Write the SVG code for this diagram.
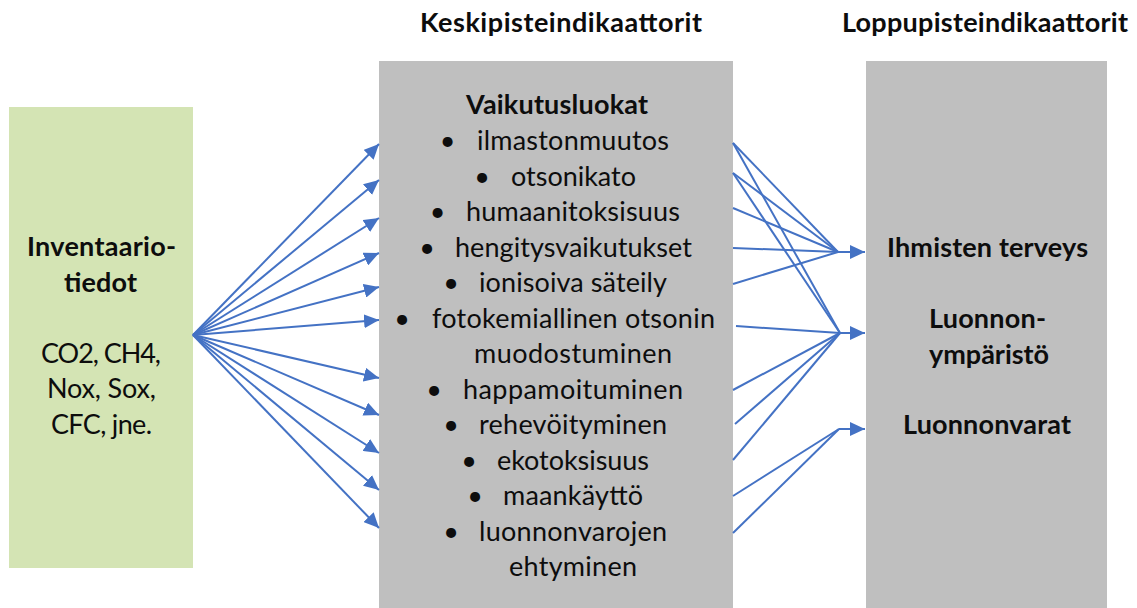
<svg xmlns="http://www.w3.org/2000/svg" width="1137" height="608" viewBox="0 0 1137 608">
<style>
  .t { font-family: Lato, "Liberation Sans", sans-serif; font-size: 27px; fill: #0d0d0d; }
  .b { font-weight: bold; }
  .c { text-anchor: middle; }
  .ln { stroke: #4472c4; stroke-width: 2; fill: none; }
</style>
<defs>
  <marker id="ah" markerUnits="userSpaceOnUse" markerWidth="16" markerHeight="14" refX="15" refY="7" orient="auto">
    <path d="M0,0 L15,7 L0,14 z" fill="#4472c4"/>
  </marker>
</defs>
<rect width="1137" height="608" fill="#ffffff"/>

<g id="header-keski">
  <text class="t b" x="420" y="32" textLength="282">Keskipisteindikaattorit</text>
</g>
<g id="header-loppu">
  <text class="t b" x="842" y="32" textLength="286">Loppupisteindikaattorit</text>
</g>

<g id="inventaario">
  <rect x="9" y="107" width="184" height="461" fill="#d4e4b4"/>
  <text class="t b c" x="101.5" y="256" textLength="149">Inventaario-</text>
  <text class="t b c" x="100.5" y="291.5" textLength="73">tiedot</text>
  <text class="t c" x="101" y="363" textLength="120">CO2, CH4,</text>
  <text class="t c" x="101.5" y="398" textLength="109">Nox, Sox,</text>
  <text class="t c" x="101.5" y="433.5" textLength="101">CFC, jne.</text>
</g>

<g id="keskipiste">
  <rect x="379" y="61" width="354" height="547" fill="#bfbfbf"/>
  <text class="t b" x="466" y="114" textLength="182">Vaikutusluokat</text>
  <g class="t c">
    <text x="447.5" y="150">•</text>
    <text x="482" y="185.5">•</text>
    <text x="437.5" y="221">•</text>
    <text x="427" y="256.5">•</text>
    <text x="451" y="292">•</text>
    <text x="402" y="327.5">•</text>
    <text x="434" y="398.5">•</text>
    <text x="451" y="434">•</text>
    <text x="469" y="469.5">•</text>
    <text x="475" y="505">•</text>
    <text x="451" y="540.5">•</text>
  </g>
  <text class="t" x="477" y="150" textLength="192">ilmastonmuutos</text>
  <text class="t" x="511" y="185.5" textLength="125">otsonikato</text>
  <text class="t" x="466" y="221" textLength="214">humaanitoksisuus</text>
  <text class="t" x="455" y="256.5" textLength="237">hengitysvaikutukset</text>
  <text class="t" x="479" y="292" textLength="188">ionisoiva säteily</text>
  <text class="t" x="432" y="327.5" textLength="283">fotokemiallinen otsonin</text>
  <text class="t" x="474" y="363" textLength="198">muodostuminen</text>
  <text class="t" x="463" y="398.5" textLength="220">happamoituminen</text>
  <text class="t" x="479" y="434" textLength="188">rehevöityminen</text>
  <text class="t" x="497" y="469.5" textLength="152">ekotoksisuus</text>
  <text class="t" x="503" y="505" textLength="140">maankäyttö</text>
  <text class="t" x="479" y="540.5" textLength="188">luonnonvarojen</text>
  <text class="t" x="509" y="576" textLength="128">ehtyminen</text>
</g>

<g id="loppupiste">
  <rect x="866" y="61" width="241" height="547" fill="#bfbfbf"/>
  <text class="t b" x="887" y="257" textLength="201">Ihmisten terveys</text>
  <text class="t b" x="929" y="328" textLength="117">Luonnon-</text>
  <text class="t b" x="929" y="363.5" textLength="120">ympäristö</text>
  <text class="t b" x="903" y="434" textLength="168">Luonnonvarat</text>
</g>

<g id="connectors" class="ln">
  <line x1="193" y1="335" x2="379" y2="144" marker-end="url(#ah)"/>
  <line x1="193" y1="335" x2="379" y2="180" marker-end="url(#ah)"/>
  <line x1="193" y1="335" x2="379" y2="218" marker-end="url(#ah)"/>
  <line x1="193" y1="335" x2="379" y2="253" marker-end="url(#ah)"/>
  <line x1="193" y1="335" x2="379" y2="287" marker-end="url(#ah)"/>
  <line x1="193" y1="335" x2="379" y2="320" marker-end="url(#ah)"/>
  <line x1="193" y1="335" x2="379" y2="378" marker-end="url(#ah)"/>
  <line x1="193" y1="335" x2="379" y2="415" marker-end="url(#ah)"/>
  <line x1="193" y1="335" x2="379" y2="453" marker-end="url(#ah)"/>
  <line x1="193" y1="335" x2="379" y2="490" marker-end="url(#ah)"/>
  <line x1="193" y1="335" x2="379" y2="528" marker-end="url(#ah)"/>

  <line x1="733" y1="143" x2="838" y2="252"/>
  <line x1="733" y1="173" x2="838" y2="252"/>
  <line x1="733" y1="208" x2="838" y2="252"/>
  <line x1="733" y1="248" x2="838" y2="252"/>
  <line x1="733" y1="284" x2="838" y2="252"/>
  <line x1="838" y1="252" x2="865" y2="252" marker-end="url(#ah)"/>

  <line x1="733" y1="143" x2="840" y2="333"/>
  <line x1="733" y1="173" x2="840" y2="333"/>
  <line x1="736" y1="326" x2="840" y2="333"/>
  <line x1="733" y1="390" x2="840" y2="333"/>
  <line x1="735" y1="424" x2="840" y2="333"/>
  <line x1="733" y1="460" x2="840" y2="333"/>
  <line x1="840" y1="333" x2="865" y2="333" marker-end="url(#ah)"/>

  <line x1="733" y1="496" x2="839" y2="429"/>
  <line x1="733" y1="533" x2="839" y2="429"/>
  <line x1="839" y1="429" x2="865" y2="429" marker-end="url(#ah)"/>
</g>
</svg>
